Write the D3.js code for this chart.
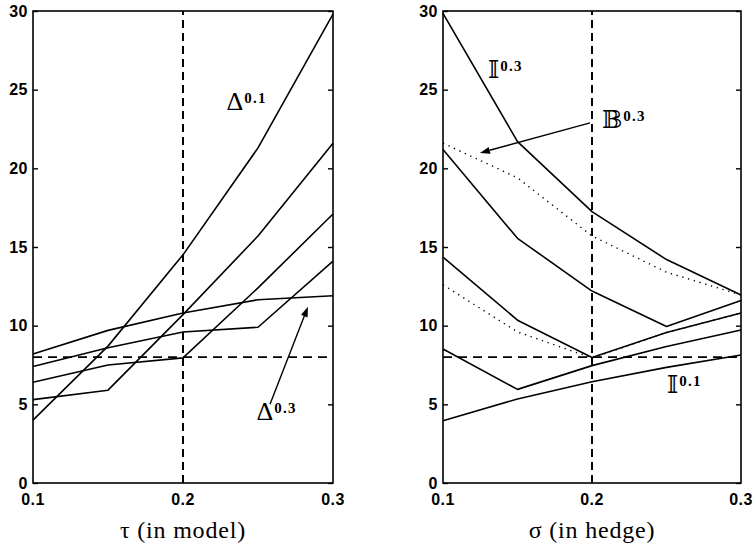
<!DOCTYPE html>
<html>
<head>
<meta charset="utf-8">
<script src="https://cdn.jsdelivr.net/npm/d3@7"></script>
<style>
  html, body { margin: 0; padding: 0; background: #fff; }
  svg { display: block; }
</style>
</head>
<body>
<svg id="chart" width="755" height="549"></svg>
<script>
// ---------- data ----------
const xValues = [0.1, 0.15, 0.2, 0.25, 0.3];
const xTicks = [0.1, 0.2, 0.3];
const yTicks = [0, 5, 10, 15, 20, 25, 30];

// left panel (tau in model)
const leftDelta01 = [4.0, 8.7, 14.5, 21.3, 29.8];
const leftLine2   = [5.3, 5.9, 10.7, 15.7, 21.6];
const leftLine3   = [6.4, 7.5, 7.95, 12.4, 17.1];
const leftLine4   = [7.4, 8.6, 9.6, 9.9, 14.1];
const leftDelta03 = [8.2, 9.7, 10.8, 11.65, 11.9];

// right panel (sigma in hedge)
const rightI03   = [29.85, 21.7, 17.25, 14.2, 11.95];
const rightLine2 = [21.2, 15.55, 12.2, 9.95, 11.6];
const rightLine3 = [14.35, 10.35, 7.98, 9.56, 10.8];
const rightLine4 = [8.52, 5.95, 7.46, 8.67, 9.72];
const rightI01   = [3.96, 5.34, 6.44, 7.35, 8.14];
const rightB03   = [21.6, 19.4, 15.7, 13.4, 11.95];
const rightBlow  = [12.6, 9.6, 7.95, 9.56, 10.8];

const refX = 0.2;
const refY = 8;

const leftTitle = "τ (in model)";
const rightTitle = "σ (in hedge)";

// ---------- drawing ----------
const svg = d3.select("#chart");
const plotTop = 11, plotBottom = 483;

function panel(x0, x1, solids, dotted, title) {
  const x = d3.scaleLinear().domain([0.1, 0.3]).range([x0, x1]);
  const y = d3.scaleLinear().domain([0, 30]).range([plotBottom, plotTop]);
  const g = svg.append("g");

  // reference dashed lines
  g.append("line").attr("x1", x(refX)).attr("x2", x(refX)).attr("y1", y(0)).attr("y2", y(30))
    .attr("stroke", "#000").attr("stroke-width", 2).attr("stroke-dasharray", "8,5");
  g.append("line").attr("x1", x(0.1)).attr("x2", x(0.3)).attr("y1", y(refY)).attr("y2", y(refY))
    .attr("stroke", "#000").attr("stroke-width", 1.6).attr("stroke-dasharray", "9,6");

  const line = d3.line().x((d, i) => x(xValues[i])).y(d => y(d));
  solids.forEach(s => {
    g.append("path").attr("d", line(s)).attr("fill", "none")
      .attr("stroke", "#000").attr("stroke-width", 1.6).attr("stroke-linejoin", "round");
  });
  dotted.forEach(s => {
    g.append("path").attr("d", line(s)).attr("fill", "none")
      .attr("stroke", "#000").attr("stroke-width", 1.4).attr("stroke-dasharray", "1.3,4.7");
  });

  // frame
  g.append("rect").attr("x", x(0.1)).attr("y", y(30)).attr("width", x(0.3) - x(0.1))
    .attr("height", y(0) - y(30)).attr("fill", "none").attr("stroke", "#000").attr("stroke-width", 1.6);

  // y axes (inward ticks on both sides)
  const yl = g.append("g").attr("transform", `translate(${x(0.1)},0)`)
    .call(d3.axisRight(y).tickValues(yTicks).tickSize(5).tickFormat(""));
  const yr = g.append("g").attr("transform", `translate(${x(0.3)},0)`)
    .call(d3.axisLeft(y).tickValues(yTicks).tickSize(5).tickFormat(""));
  [yl, yr].forEach(a => { a.select(".domain").remove(); a.selectAll("line").attr("stroke-width", 1.4); });

  // y tick labels
  g.selectAll(".ylab").data(yTicks).enter().append("text")
    .attr("x", x(0.1) - 5).attr("y", d => y(d)).attr("dy", "0.36em")
    .attr("text-anchor", "end")
    .attr("font-family", "Liberation Sans, Arial, sans-serif").attr("font-weight", "bold")
    .attr("font-size", 16).attr("letter-spacing", 0.5).text(d => d);

  // x tick labels
  g.selectAll(".xlab").data(xTicks).enter().append("text")
    .attr("x", d => x(d)).attr("y", plotBottom + 22)
    .attr("text-anchor", "middle")
    .attr("font-family", "Liberation Sans, Arial, sans-serif").attr("font-weight", "bold")
    .attr("font-size", 16).attr("letter-spacing", 0.5).text(d => d.toFixed(1));

  // axis title
  g.append("text").attr("x", x(0.2)).attr("y", 538).attr("text-anchor", "middle")
    .attr("font-family", "Liberation Serif, Times New Roman, serif")
    .attr("font-size", 24).attr("letter-spacing", 0.8).text(title);

  return { g, x, y };
}

function label(p, xv, yv, main, sup, mainFont, mainSize) {
  const t = p.g.append("text").attr("x", p.x(xv)).attr("y", p.y(yv))
    .attr("font-family", mainFont || "Liberation Serif, serif");
  t.append("tspan").attr("font-size", mainSize || 26).text(main);
  t.append("tspan").attr("font-size", 15).attr("font-weight", "bold").attr("letter-spacing", 1.3)
    .attr("font-family", "Liberation Serif, serif").attr("dx", 1).attr("dy", -7).text(sup);
}

function arrow(p, xa, ya, xb, yb) {
  const x1 = p.x(xa), y1 = p.y(ya), x2 = p.x(xb), y2 = p.y(yb);
  const ang = Math.atan2(y2 - y1, x2 - x1);
  const L = 10, W = 3.5;
  const bx = x2 - L * Math.cos(ang), by = y2 - L * Math.sin(ang);
  p.g.append("line").attr("x1", x1).attr("y1", y1).attr("x2", bx).attr("y2", by)
    .attr("stroke", "#000").attr("stroke-width", 1.4);
  const pts = [[x2, y2],
    [bx + W * Math.sin(ang), by - W * Math.cos(ang)],
    [bx - W * Math.sin(ang), by + W * Math.cos(ang)]];
  p.g.append("polygon").attr("points", pts.map(q => q.join(",")).join(" ")).attr("fill", "#000");
}

const left = panel(33, 333,
  [leftDelta01, leftLine2, leftLine3, leftLine4, leftDelta03], [], leftTitle);
const right = panel(443, 741,
  [rightI03, rightLine2, rightLine3, rightLine4, rightI01], [rightB03, rightBlow], rightTitle);

label(left, 0.229, 23.7, "Δ", "0.1");
label(left, 0.249, 4.0, "Δ", "0.3");
arrow(left, 0.258, 5.0, 0.2833, 11.2);

label(right, 0.1302, 25.75, "𝕀", "0.3", "DejaVu Serif, DejaVu Sans, serif", 24);
label(right, 0.2067, 22.57, "𝔹", "0.3", "DejaVu Serif, DejaVu Sans, serif", 24);
label(right, 0.2503, 5.72, "𝕀", "0.1", "DejaVu Serif, DejaVu Sans, serif", 24);
arrow(right, 0.1987, 22.89, 0.1248, 20.98);
</script>
</body>
</html>
